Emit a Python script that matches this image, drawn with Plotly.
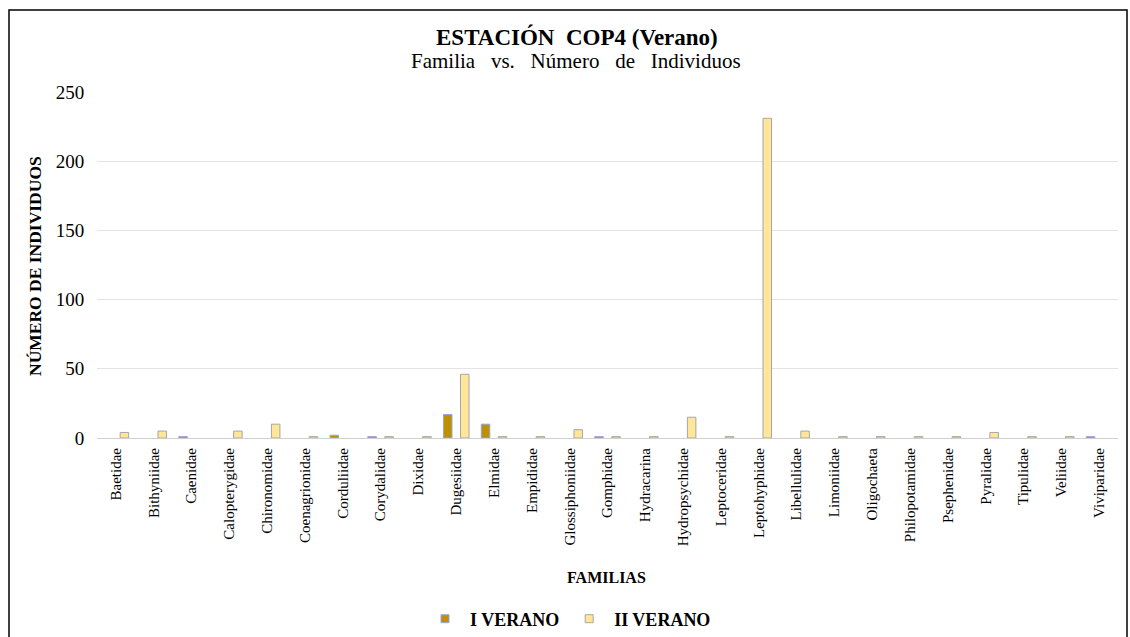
import plotly.graph_objects as go

familias = [
    "Baetidae", "Bithyniidae", "Caenidae", "Calopterygidae", "Chironomidae",
    "Coenagrionidae", "Corduliidae", "Corydalidae", "Dixidae", "Dugesiidae",
    "Elmidae", "Empididae", "Glossiphoniidae", "Gomphidae", "Hydracarina",
    "Hydropsychidae", "Leptoceridae", "Leptohyphidae", "Libellulidae",
    "Limoniidae", "Oligochaeta", "Philopotamidae", "Psephenidae", "Pyralidae",
    "Tipulidae", "Veliidae", "Viviparidae",
]
i_verano = [0, 0, 1, 0, 0, 0, 2, 1, 0, 17, 10, 0, 0, 1, 0, 0, 0, 0, 0, 0, 0, 0, 0, 0, 0, 0, 1]
ii_verano = [4, 5, 0, 5, 10, 1, 0, 1, 1, 46, 1, 1, 6, 1, 1, 15, 1, 231, 5, 1, 1, 1, 1, 4, 1, 1, 0]
y_ticks = [0, 50, 100, 150, 200, 250]

FONT = "Liberation Serif"

W, H = 1130, 637
ML, MR, MT, MB = 97, 12, 92, 199
PW, PH = W - ML - MR, H - MT - MB


def px(x):
    return (x - ML) / PW


def py(y):
    return (H - MB - y) / PH


def nonzero(values):
    # empty categories get no bar at all (otherwise the outline shows as a flat line)
    return [v if v else None for v in values]


series = [
    ("I VERANO", i_verano, "#BF9000", "#8FAADC"),
    ("II VERANO", ii_verano, "#FFE699", "#A6A6A6"),
]

fig = go.Figure()
for name, vals, fill, edge in series:
    fig.add_trace(go.Bar(
        name=name, x=familias, y=nonzero(vals), legendgroup=name, showlegend=False,
        marker=dict(color=fill, line=dict(color=edge, width=1)),
    ))
for name, vals, fill, edge in series:
    fig.add_trace(go.Scatter(
        name=name, x=[None], y=[None], mode="markers", legendgroup=name,
        marker=dict(symbol="square", size=8, color=fill, line=dict(color=edge, width=1)),
    ))

fig.update_layout(
    width=W, height=H,
    margin=dict(l=ML, r=MR, t=MT, b=MB, autoexpand=False),
    paper_bgcolor="white", plot_bgcolor="white",
    barmode="group", bargap=0.1, bargroupgap=0.5,
    font=dict(family=FONT, color="#000000"),
    showlegend=True,
    legend=dict(
        orientation="h", x=px(568), xanchor="center", y=py(619), yanchor="middle",
        font=dict(family=FONT, size=18, color="#000000", weight="bold"),
        itemwidth=40, traceorder="normal",
    ),
)
fig.update_xaxes(
    type="category", tickangle=-90, showgrid=False, automargin=False,
    showline=True, linecolor="#D0D0D0", linewidth=1,
    tickfont=dict(family=FONT, size=15, color="#000000"),
    ticks="outside", ticklen=3, tickcolor="rgba(0,0,0,0)",
    range=[-0.5, len(familias) - 0.5],
)
fig.update_yaxes(
    range=[0, 250], tickvals=y_ticks, showgrid=True, gridcolor="#E3E3E3",
    zeroline=False, showline=False, automargin=False,
    tickfont=dict(family=FONT, size=19, color="#000000"),
    ticks="outside", ticklen=8, tickcolor="rgba(0,0,0,0)",
)

notes = [
    ("<b>ESTACIÓN  COP4 (Verano)</b>", 577, 37, 23, 0),
    ("Familia   vs.   Número   de   Individuos", 576, 61, 21, 0),
    ("<b>NÚMERO DE INDIVIDUOS</b>", 35, 266, 17.5, -90),
    ("<b>FAMILIAS</b>", 606, 577, 16, 0),
]
for text, x, y, size, angle in notes:
    fig.add_annotation(
        text=text, x=px(x), y=py(y), textangle=angle,
        xref="paper", yref="paper", xanchor="center", yanchor="middle",
        showarrow=False, font=dict(family=FONT, size=size, color="#000000"),
    )

fig.add_shape(
    type="rect", xref="paper", yref="paper",
    x0=px(9), x1=px(1127), y0=py(660), y1=py(10),
    line=dict(color="#000000", width=1.5), fillcolor="rgba(0,0,0,0)",
)

fig.write_html("out.html")
